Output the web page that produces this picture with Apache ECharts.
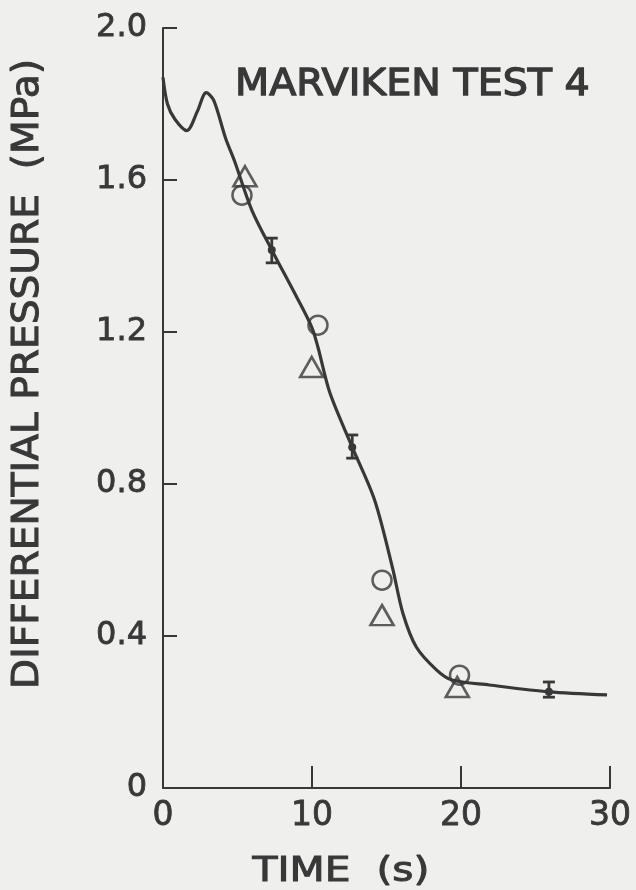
<!DOCTYPE html>
<html>
<head>
<meta charset="utf-8">
<script src="https://cdn.jsdelivr.net/npm/echarts@6/dist/echarts.min.js"></script>
<style>
  html, body { margin: 0; padding: 0; background: #efefed; }
  #chart { width: 636px; height: 890px; }
</style>
</head>
<body>
<div id="chart"></div>
<script>
// Marviken test 4: differential pressure history (MPa) versus time (s)

// Measured trace
const curveTime = [0.0, 0.3, 0.8, 1.6, 2.3, 2.9, 3.4, 4.2, 4.8, 5.96, 7.3, 8.97, 9.98, 10.4, 11.2, 12.7, 14.2, 15.4, 16.1, 17.0, 18.35, 19.4, 21.9, 25.9, 29.8];
const curvePressure = [1.87, 1.80, 1.76, 1.73, 1.78, 1.83, 1.81, 1.71, 1.65, 1.521, 1.416, 1.292, 1.213, 1.16, 1.04, 0.897, 0.758, 0.58, 0.46, 0.371, 0.311, 0.284, 0.271, 0.253, 0.245];

// Calculated points, circles
const circleTime = [5.3, 10.4, 14.7, 19.9];
const circlePressure = [1.56, 1.218, 0.547, 0.297];

// Calculated points, triangles
const triangleTime = [5.5, 9.98, 14.7, 19.75];
const trianglePressure = [1.61, 1.108, 0.455, 0.266];

// Measurement uncertainty bars
const errTime = [7.3, 12.7, 25.9];
const errPressure = [1.416, 0.897, 0.253];
const errLow = [1.382, 0.868, 0.239];
const errHigh = [1.447, 0.929, 0.279];

// Axis tick labels
const xTickLabels = ['0', '10', '20', '30'];
const yTickLabels = ['0', '0.4', '0.8', '1.2', '1.6', '2.0'];

const ink = '#383838';
const font = 'DejaVu Sans';

const zip = (a, b) => a.map((v, i) => [v, b[i]]);

const chart = echarts.init(document.getElementById('chart'), null, { renderer: 'canvas' });

chart.setOption({
  animation: false,
  backgroundColor: '#efefed',
  grid: { left: 163, right: 26, top: 28, bottom: 102, containLabel: false, outerBoundsMode: 'none' },
  xAxis: {
    type: 'value', min: 0, max: 30, interval: 10,
    axisLine: { lineStyle: { color: ink, width: 2 } },
    axisTick: { inside: true, length: 22, lineStyle: { color: ink, width: 2 } },
    splitLine: { show: false },
    axisLabel: {
      color: ink, fontFamily: font, fontSize: 33, margin: 12,
      textBorderColor: ink, textBorderWidth: 0.8,
      formatter: (v) => xTickLabels[Math.round(v / 10)]
    }
  },
  yAxis: {
    type: 'value', min: 0, max: 2.0, interval: 0.4,
    axisLine: { lineStyle: { color: ink, width: 2 } },
    axisTick: { inside: true, length: 14, lineStyle: { color: ink, width: 2 } },
    splitLine: { show: false },
    axisLabel: {
      color: ink, fontFamily: font, fontSize: 32, margin: 16,
      textBorderColor: ink, textBorderWidth: 0.8,
      formatter: (v) => yTickLabels[Math.round(v / 0.4)]
    }
  },
  graphic: [
    {
      type: 'text', x: 235, y: 85,
      style: {
        text: 'MARVIKEN TEST 4', fontFamily: font, fontSize: 37,
        fill: ink, stroke: ink, lineWidth: 1.3,
        textAlign: 'left', textVerticalAlign: 'middle'
      },
      scaleX: 1.07
    },
    {
      type: 'text', x: 28, y: 374, rotation: Math.PI / 2,
      style: {
        text: 'DIFFERENTIAL PRESSURE  (MPa)', fontFamily: font, fontSize: 38,
        fill: ink, stroke: ink, lineWidth: 1,
        textAlign: 'center', textVerticalAlign: 'middle'
      },
      scaleX: 1.03
    },
    {
      type: 'text', x: 341, y: 872,
      style: {
        text: 'TIME  (s)', fontFamily: font, fontSize: 34,
        fill: ink, stroke: ink, lineWidth: 1,
        textAlign: 'center', textVerticalAlign: 'middle'
      },
      scaleX: 1.2
    }
  ],
  series: [
    {
      type: 'line', data: zip(curveTime, curvePressure), smooth: 0.3,
      showSymbol: false, symbol: 'none',
      lineStyle: { color: ink, width: 3.2 }, z: 2
    },
    {
      type: 'scatter', data: zip(circleTime, circlePressure),
      symbol: 'circle', symbolSize: 19,
      itemStyle: { color: 'rgba(0,0,0,0)', borderColor: ink, borderWidth: 2.5 }, z: 3
    },
    {
      type: 'scatter', data: zip(triangleTime, trianglePressure),
      symbol: 'triangle', symbolSize: [23, 20],
      itemStyle: { color: 'rgba(0,0,0,0)', borderColor: ink, borderWidth: 2.6 }, z: 3
    },
    {
      type: 'custom', z: 4,
      data: errTime.map((t, i) => [t, errPressure[i], errLow[i], errHigh[i]]),
      renderItem: (params, api) => {
        const c = api.coord([api.value(0), api.value(1)]);
        const lo = api.coord([api.value(0), api.value(2)]);
        const hi = api.coord([api.value(0), api.value(3)]);
        const w = 6;
        const st = { stroke: ink, lineWidth: 2.8 };
        return {
          type: 'group',
          children: [
            { type: 'line', shape: { x1: lo[0], y1: lo[1], x2: hi[0], y2: hi[1] }, style: st },
            { type: 'line', shape: { x1: hi[0] - w, y1: hi[1], x2: hi[0] + w, y2: hi[1] }, style: st },
            { type: 'line', shape: { x1: lo[0] - w, y1: lo[1], x2: lo[0] + w, y2: lo[1] }, style: st },
            { type: 'circle', shape: { cx: c[0], cy: c[1], r: 4 }, style: { fill: ink } }
          ]
        };
      }
    }
  ]
});
</script>
</body>
</html>
